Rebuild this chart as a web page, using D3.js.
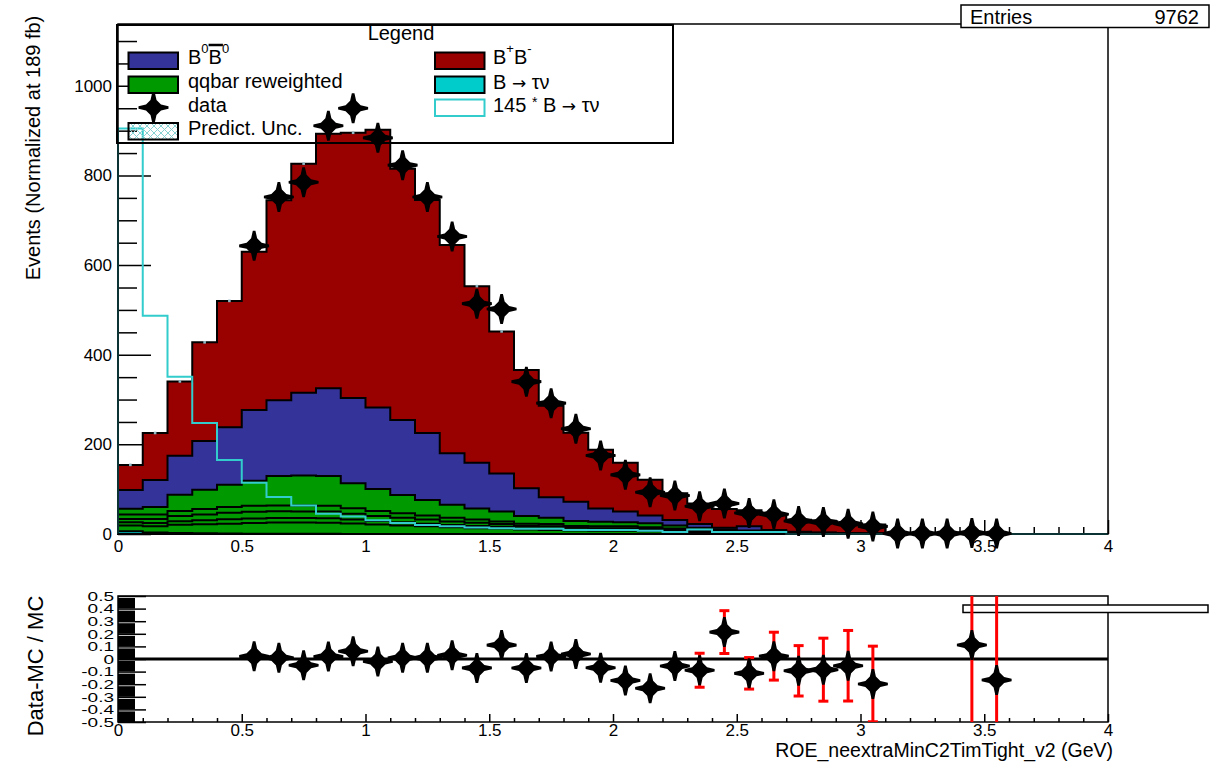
<!DOCTYPE html>
<html>
<head>
<meta charset="utf-8">
<script src="https://cdn.jsdelivr.net/npm/d3@7"></script>
<style>
  body { margin: 0; background: #fff; }
  svg { display: block; }
  text { font-family: "Liberation Sans", Arial, Helvetica, sans-serif; fill: #000; }
</style>
</head>
<body>
<svg id="chart" width="1216" height="772"></svg>
<script>
// ---- binning (ROE_neextraMinC2TimTight_v2, GeV) ----
const binEdges = [0,0.1,0.2,0.3,0.4,0.5,0.6,0.7,0.8,0.9,1.0,1.1,1.2,1.3,1.4,1.5,1.6,1.7,1.8,1.9,
                  2.0,2.1,2.2,2.3,2.4,2.5,2.6,2.7,2.8,2.9,3.0,3.1,3.2,3.3,3.4,3.5,3.6,3.7,3.8,3.9,4.0];

// ---- stacked MC components, events per bin (bottom to top) ----
const btaunu = [6.24,3.36,2.42,1.71,1.14,0.79,0.57,0.44,0.31,0.27,0.21,0.17,0.14,0.12,0.10,0.09,0.08,0.08,0.06,0.06,
                0.06,0.05,0.03,0.07,0.03,0.03,0.03,0,0,0,0,0,0,0,0,0,0,0,0,0];
const qqbarA = [13,14,18,20,22,24,25,25,25,23,21,19,17,15,13,12,10,9,8,7,7,6,5,4,3,2,2,1,1,0.5,0.3,0,0,0,0,0,0,0,0,0];
const qqbarB = [7,7,8,9,10,10,10,10,10,9,8,7,6,5,5,4,3,3,2,2,2,2,1.5,1,1,1,0.5,0.5,0.3,0.2,0.1,0,0,0,0,0,0,0,0,0];
const qqbarC = [7.5,9,12,13,14,15,15,15,15,13,11,10,9,8,7,6,5,5,4,4,4,3,3,2,1.5,1,1,0.8,0.5,0.3,0.2,0,0,0,0,0,0,0,0,0];
const qqbarD = [9.5,10,11,12,13,13,13,13,13,12,11,10,9,8,7,6,5,5,4,4,4,4,3,2,1.5,1.2,1,0.7,0.5,0.4,0.2,0,0,0,0,0,0,0,0,0];
const qqbarE = [13,17,36,43,50,56,66,67,66,56,49,41,35,29,25,22,17,14,11,10,9,9,6.5,5,3,2.8,1.5,1,0.7,0.6,0.2,0,0,0,0.4,0.4,0,0,0,0];
const b0b0bar = [42,60,87,109,128,158,169,185,196,190,182,167,149,115,102,85,62,46,43,30,24,17,12,8,4,9,3,1,0.5,0.3,0.2,0,0,0,0.3,0.2,0,0,0,0];
const bplusbminus = [56,105,166,220,282,353,446,511,568,592,620,561,520,465,394,317,264,204,154,131,109,80,60,46,42,36,34,27,26,22,20,0,0,0,1.1,0.6,0,0,0,0];

// ---- data (first five bins blinded) ----
const dataCounts = [null,null,null,null,null,643,752,785,911,950,884,823,752,664,514,502,340,292,235,175,
                    132,93,86,62,68,47,44,29,27,23,17,1,1,1,2,1,null,null,null,null];
// uncertainty on (Data-MC)/MC, shown where it reaches beyond the marker
const ratioErr = [null,null,null,null,null,null,null,null,null,null,null,null,null,null,null,null,null,null,null,null,
                  null,null,null,0.135,0.17,0.125,0.19,0.2,0.25,0.28,0.3,null,null,null,1.0,1.0,null,null,null,null];

const signalScale = 145;
const entries = 9762;

// ---- axis ticks ----
const xMajorTicks = [0,0.5,1,1.5,2,2.5,3,3.5,4];
const xMinorTicks = [0.1,0.2,0.3,0.4,0.6,0.7,0.8,0.9,1.1,1.2,1.3,1.4,1.6,1.7,1.8,1.9,2.1,2.2,2.3,2.4,2.6,2.7,2.8,2.9,3.1,3.2,3.3,3.4,3.6,3.7,3.8,3.9];
const yMajorTicks = [0,200,400,600,800,1000];
const yMinorTicks = [50,100,150,250,300,350,450,500,550,650,700,750,850,900,950,1050,1100];
const ratioTicks = [0.5,0.4,0.3,0.2,0.1,0,-0.1,-0.2,-0.3,-0.4,-0.5];

const colors = {
  btaunu: "#00cccc", qq: "#009900", b0b0bar: "#333399", bplusbminus: "#990000",
  signalLine: "#33cccc", ratioErr: "#ff0000", unc: "#8fb9c4"
};

const svg = d3.select("#chart");
const FONT = '"Liberation Sans", Arial, Helvetica, sans-serif';

// ---- scales ----
const x = d3.scaleLinear().domain([0, 4]).range([118, 1108]);
const y = d3.scaleLinear().domain([0, 1138]).range([534, 24]);
const yr = d3.scaleLinear().domain([-0.5, 0.5]).range([722, 596]);

// ---- stack ----
const layerKeys = ["btaunu","qqbarA","qqbarB","qqbarC","qqbarD","qqbarE","b0b0bar","bplusbminus"];
const layerArrays = {btaunu, qqbarA, qqbarB, qqbarC, qqbarD, qqbarE, b0b0bar, bplusbminus};
const layerFill = {btaunu: colors.btaunu, qqbarA: colors.qq, qqbarB: colors.qq, qqbarC: colors.qq,
                   qqbarD: colors.qq, qqbarE: colors.qq, b0b0bar: colors.b0b0bar, bplusbminus: colors.bplusbminus};
const rows = binEdges.slice(0, -1).map((lo, i) => {
  const r = {};
  layerKeys.forEach(k => r[k] = layerArrays[k][i]);
  return r;
});
const series = d3.stack().keys(layerKeys)(rows);
const mcTotal = series[series.length - 1].map(d => d[1]);

const line = d3.line();
function stepPoints(vals) {
  const pts = [[x(binEdges[0]), y(0)]];
  vals.forEach((v, i) => {
    pts.push([x(binEdges[i]), y(v)]);
    pts.push([x(binEdges[i + 1]), y(v)]);
  });
  pts.push([x(binEdges[binEdges.length - 1]), y(0)]);
  return pts;
}

// defs: hatch + clip
const defs = svg.append("defs");
defs.append("pattern").attr("id", "hatch").attr("width", 7).attr("height", 7)
  .attr("patternUnits", "userSpaceOnUse")
  .append("path").attr("d", "M0,0 L7,7 M7,0 L0,7").attr("stroke", "#86d2d2").attr("stroke-width", 1);
defs.append("clipPath").attr("id", "ratioClip").append("rect")
  .attr("x", 118).attr("y", 596).attr("width", 990).attr("height", 126);

// ================= main pad =================
const main = svg.append("g");

function styleAxis(g, size) {
  g.attr("font-family", FONT).attr("font-size", size);
  g.select(".domain").remove();
  g.selectAll(".tick line").attr("stroke", "#000").attr("stroke-width", 1.5);
  g.selectAll("text").attr("fill", "#000");
}
main.append("g").attr("transform", "translate(118,0)")
  .call(d3.axisLeft(y).tickValues(yMajorTicks).tickSize(-33).tickPadding(6).tickFormat(d => String(d)))
  .call(g => styleAxis(g, 17));
main.append("g").attr("transform", "translate(118,0)")
  .call(d3.axisLeft(y).tickValues(yMinorTicks).tickSize(-19).tickFormat(""))
  .call(g => styleAxis(g, 17));
main.append("g").attr("transform", "translate(0,534)")
  .call(d3.axisBottom(x).tickValues(xMajorTicks).tickSize(-14).tickPadding(6).tickFormat(d => String(d)))
  .call(g => styleAxis(g, 17));
main.append("g").attr("transform", "translate(0,534)")
  .call(d3.axisBottom(x).tickValues(xMinorTicks).tickSize(-7).tickFormat(""))
  .call(g => styleAxis(g, 17));

// stacked histogram: each cumulative level filled from zero, outlined in black
series.slice().reverse().forEach(s => {
  const tops = s.map(d => d[1]);
  main.append("path")
    .attr("d", line(stepPoints(tops)) + "Z")
    .attr("fill", layerFill[s.key])
    .attr("stroke", "#000").attr("stroke-width", 2).attr("stroke-linejoin", "miter");
});

// scaled signal outline
main.append("path")
  .attr("d", line(stepPoints(btaunu.map(v => v * signalScale))))
  .attr("fill", "none").attr("stroke", colors.signalLine).attr("stroke-width", 2);

// prediction uncertainty points
main.selectAll("rect.unc").data(mcTotal.map((t, i) => ({t, i})).filter(d => d.t > 0))
  .join("rect").attr("class", "unc")
  .attr("x", d => x((binEdges[d.i] + binEdges[d.i + 1]) / 2) - 1.3)
  .attr("y", d => y(d.t) - 1.3).attr("width", 2.6).attr("height", 2.6)
  .attr("fill", colors.unc);

// data marker: four-pointed star with a solid body and blunt arms
const starPath = "M-1.3,-15 L1.3,-15 L3,-7.5 L7.5,-3 L15,-1.3 L15,1.3 L7.5,3 L3,7.5 L1.3,15 L-1.3,15 " +
                 "L-3,7.5 L-7.5,3 L-15,1.3 L-15,-1.3 L-7.5,-3 L-3,-7.5 Z M0,-10 L10,0 L0,10 L-10,0 Z";
const dataPts = dataCounts.map((v, i) => ({v, i, xc: (binEdges[i] + binEdges[i + 1]) / 2})).filter(d => d.v !== null);

main.selectAll("path.dmark").data(dataPts).join("path").attr("class", "dmark")
  .attr("transform", d => `translate(${x(d.xc)},${y(d.v)})`)
  .attr("d", starPath).attr("fill", "#000");

// frame
main.append("rect").attr("x", 118).attr("y", 24).attr("width", 990).attr("height", 510)
  .attr("fill", "none").attr("stroke", "#000").attr("stroke-width", 1.5);

main.append("text").attr("transform", "translate(40,148) rotate(-90)")
  .attr("text-anchor", "middle").attr("font-size", 20)
  .text("Events (Normalized at 189 fb)");

// ---- legend ----
const leg = svg.append("g");
leg.append("rect").attr("x", 117).attr("y", 25).attr("width", 556).attr("height", 118)
  .attr("fill", "none").attr("stroke", "#000").attr("stroke-width", 2);
leg.append("text").attr("x", 401).attr("y", 39.5).attr("text-anchor", "middle").attr("font-size", 20).text("Legend");

function swatch(x0, y0, fill, stroke) {
  leg.append("rect").attr("x", x0).attr("y", y0).attr("width", 49.5).attr("height", 16.5)
    .attr("fill", fill).attr("stroke", stroke || "#000").attr("stroke-width", 2);
}
swatch(128.5, 52.5, colors.b0b0bar);
swatch(128.5, 76.5, colors.qq);
swatch(128.5, 123, "url(#hatch)");
swatch(435, 52.5, colors.bplusbminus);
swatch(435, 76.5, colors.btaunu);
swatch(435, 99.5, "#fff", colors.signalLine);

leg.append("path").attr("transform", "translate(153.5,107.5)").attr("d", starPath).attr("fill", "#000");

// B0 B0bar label
const tB0 = leg.append("text").attr("x", 188).attr("y", 64).attr("font-size", 20);
tB0.append("tspan").text("B");
tB0.append("tspan").attr("font-size", 13).attr("dy", -11).text("0");
tB0.append("tspan").attr("font-size", 20).attr("dy", 11).text("B");
tB0.append("tspan").attr("font-size", 13).attr("dy", -11).text("0");
{
  const ext = tB0.node().getExtentOfChar(2);
  leg.append("line").attr("x1", ext.x).attr("x2", ext.x + ext.width + 1)
    .attr("y1", 45).attr("y2", 45).attr("stroke", "#000").attr("stroke-width", 2.5);
}
leg.append("text").attr("x", 188).attr("y", 87.5).attr("font-size", 20).text("qqbar reweighted");
leg.append("text").attr("x", 188).attr("y", 111.5).attr("font-size", 20).text("data");
leg.append("text").attr("x", 188).attr("y", 135).attr("font-size", 20).text("Predict. Unc.");

const tBpm = leg.append("text").attr("x", 493).attr("y", 64).attr("font-size", 20);
tBpm.append("tspan").text("B");
tBpm.append("tspan").attr("font-size", 13).attr("dy", -11).text("+");
tBpm.append("tspan").attr("font-size", 20).attr("dy", 11).text("B");
tBpm.append("tspan").attr("font-size", 13).attr("dy", -11).text("-");

const ARROW_FONT = '"DejaVu Sans", sans-serif';
const tSig = leg.append("text").attr("x", 493).attr("y", 89).attr("font-size", 20);
tSig.append("tspan").text("B ");
tSig.append("tspan").attr("font-family", ARROW_FONT).attr("font-size", 17).text("\u2192");
tSig.append("tspan").text(" \u03C4\u03BD");

const tSig2 = leg.append("text").attr("x", 493).attr("y", 111.5).attr("font-size", 20);
tSig2.append("tspan").text("145 ");
tSig2.append("tspan").attr("font-size", 14).attr("dy", -5).text("*");
tSig2.append("tspan").attr("dy", 5).text(" B ");
tSig2.append("tspan").attr("font-family", ARROW_FONT).attr("font-size", 17).text("\u2192");
tSig2.append("tspan").text(" \u03C4\u03BD");

// ---- statistics box ----
svg.append("rect").attr("x", 961).attr("y", 5).attr("width", 248).attr("height", 22.5)
  .attr("fill", "#fff").attr("stroke", "#000").attr("stroke-width", 1.5);
svg.append("text").attr("x", 970).attr("y", 24).attr("font-size", 20).text("Entries");
svg.append("text").attr("x", 1199).attr("y", 24).attr("font-size", 20).attr("text-anchor", "end").text(String(entries));

// ================= ratio pad =================
const rp = svg.append("g");

// y axis: dense tick band
ratioTicks.slice(0, -1).forEach((v, i) => {
  const yTop = yr(v), yBot = yr(ratioTicks[i + 1]);
  rp.append("rect").attr("x", 118).attr("y", yTop + 2).attr("width", 17).attr("height", yBot - yTop - 2)
    .attr("fill", "#000");
});
rp.append("g").attr("transform", "translate(118,0)")
  .call(d3.axisLeft(yr).tickValues(ratioTicks).tickSize(-28).tickPadding(4).tickFormat(d => String(+d.toFixed(1))))
  .call(g => styleAxis(g, 19))
  .call(g => g.selectAll("text").each(function () {
    const t = d3.select(this);
    const xx = +t.attr("x");
    t.attr("x", null).attr("dy", "0.35em")
      .attr("transform", `translate(${xx},0) scale(1,0.66)`);
  }));

// x axis
rp.append("g").attr("transform", "translate(0,722)")
  .call(d3.axisBottom(x).tickValues(xMajorTicks).tickSize(-8).tickPadding(2).tickFormat(d => String(d)))
  .call(g => styleAxis(g, 17));
rp.append("g").attr("transform", "translate(0,722)")
  .call(d3.axisBottom(x).tickValues(xMinorTicks).tickSize(-4).tickFormat(""))
  .call(g => styleAxis(g, 17));

// frame
rp.append("rect").attr("x", 118).attr("y", 596).attr("width", 990).attr("height", 126)
  .attr("fill", "none").attr("stroke", "#000").attr("stroke-width", 1.5);

// zero line
rp.append("line").attr("x1", x(0)).attr("x2", x(4)).attr("y1", yr(0)).attr("y2", yr(0))
  .attr("stroke", "#000").attr("stroke-width", 3);

// squeezed statistics box
rp.append("rect").attr("x", 963).attr("y", 605).attr("width", 245).attr("height", 7.5)
  .attr("fill", "#fff").attr("stroke", "#000").attr("stroke-width", 1.5);

// ratio points
const ratioPts = dataPts.filter(d => mcTotal[d.i] > 0)
  .map(d => ({xc: d.xc, r: d.v / mcTotal[d.i] - 1, e: ratioErr[d.i]}));
const errPts = ratioPts.filter(d => d.e !== null);

const errG = rp.append("g").attr("clip-path", "url(#ratioClip)");
errG.selectAll("line.rerr").data(errPts).join("line").attr("class", "rerr")
  .attr("x1", d => x(d.xc)).attr("x2", d => x(d.xc))
  .attr("y1", d => yr(d.r + d.e)).attr("y2", d => yr(d.r - d.e))
  .attr("stroke", colors.ratioErr).attr("stroke-width", 3);
errG.selectAll("g.caps").data(errPts).join("g").attr("class", "caps")
  .each(function (d) {
    const g = d3.select(this);
    [d.r + d.e, d.r - d.e].forEach(v => {
      g.append("line").attr("x1", x(d.xc) - 5).attr("x2", x(d.xc) + 5)
        .attr("y1", yr(v)).attr("y2", yr(v))
        .attr("stroke", colors.ratioErr).attr("stroke-width", 3);
    });
  });
rp.selectAll("path.rmark").data(ratioPts).join("path").attr("class", "rmark")
  .attr("transform", d => `translate(${x(d.xc)},${yr(d.r)})`)
  .attr("d", starPath).attr("fill", "#000");

// titles
rp.append("text").attr("transform", "translate(43,666) rotate(-90)")
  .attr("text-anchor", "middle").attr("font-size", 22).text("Data-MC / MC");
rp.append("text").attr("x", 1113).attr("y", 757).attr("text-anchor", "end")
  .attr("font-size", 19.5).text("ROE_neextraMinC2TimTight_v2 (GeV)");
</script>
</body>
</html>
